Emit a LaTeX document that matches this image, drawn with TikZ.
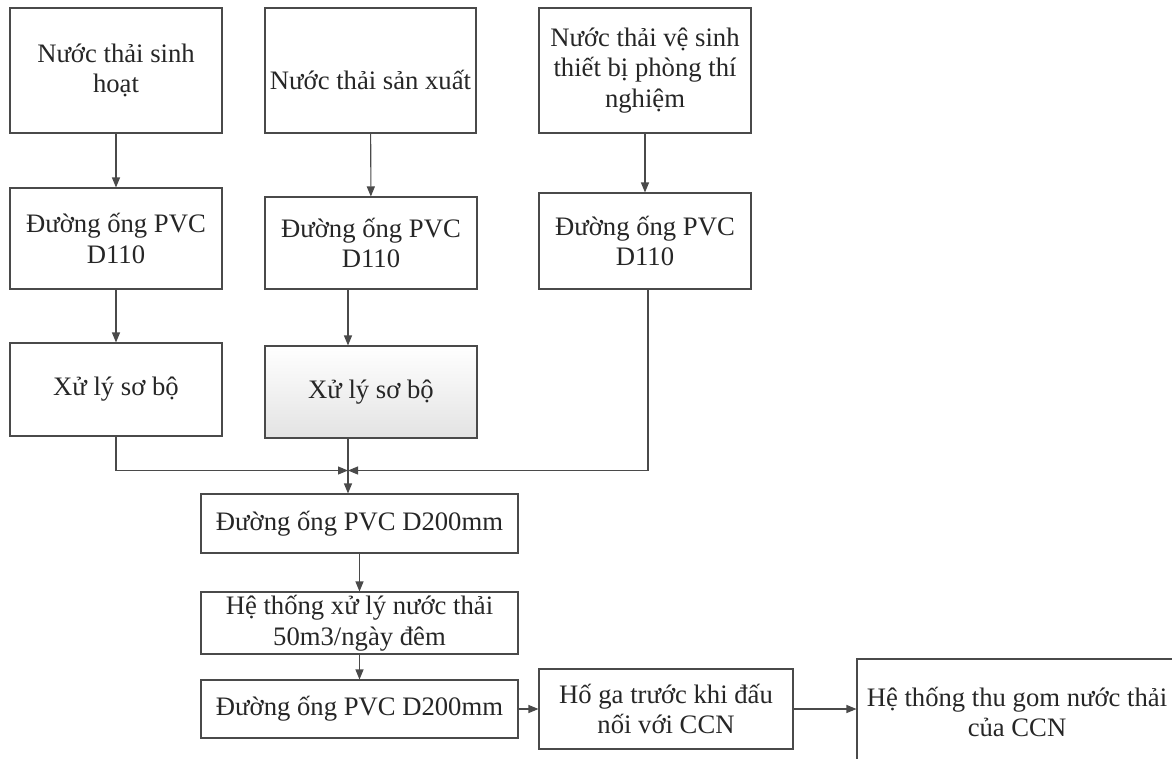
\documentclass[tikz,border=0pt]{standalone}
\usepackage{fontspec}
\setmainfont{Liberation Serif}
\usepackage{tikz}
\usetikzlibrary{arrows.meta}
\definecolor{lineGray}{HTML}{4A4A4A}
\definecolor{textGray}{HTML}{262626}

\begin{document}
\begin{tikzpicture}[x=0.75pt, y=-0.75pt,
    box/.style 2 args={draw=lineGray, line width=0.8pt, text=textGray, align=center,
        font=\fontsize{20}{23}\selectfont, inner sep=0pt,
        minimum width=#1*0.75pt, minimum height=#2*0.75pt},
    flow/.style={draw=lineGray, line width=0.8pt, -{Triangle[width=6pt,length=7.5pt]}}]
    \useasboundingbox (0,0) rectangle (1172,758);

    % three sources
    \node[box={212}{125}] (a1) at (116,70.5) {Nước thải sinh\\hoạt};
    \node[box={211}{125}] (b1) at (370.5,70.5) {\raisebox{-14pt}[0pt][0pt]{Nước thải sản xuất}};
    \node[box={212}{125}] (c1) at (645,70.5) {Nước thải vệ sinh\\thiết bị phòng thí\\nghiệm};

    \node[box={212}{101}] (a2) at (116,238.5) {Đường ống PVC\\D110};
    \node[box={212}{92}] (b2) at (371,243) {Đường ống PVC\\D110};
    \node[box={212}{96}] (c2) at (645,241) {Đường ống PVC\\D110};

    \node[box={212}{93}] (a3) at (116,389.5) {Xử lý sơ bộ};
    \node[box={212}{92}, top color=white, bottom color=gray!22] (b3) at (371,392) {Xử lý sơ bộ};

    % main line
    \node[box={317}{59}] (d1) at (359.5,523.5) {Đường ống PVC D200mm};
    \node[box={317}{62}] (d2) at (359.5,623) {Hệ thống xử lý nước thải\\50m3/ngày đêm};
    \node[box={317}{58}] (d3) at (359.5,709) {Đường ống PVC D200mm};
    \node[box={254}{80}] (e) at (666,709) {Hố ga trước khi đấu\\nối với CCN};
    \node[box={320}{106}] (f) at (1017,712) {Hệ thống thu gom nước thải\\của CCN};

    \coordinate (m) at (348,470.5);

    \draw[flow] (a1) -- (a2);
    \draw[flow] (b1) -- (b2);
    \draw[flow] (c1) -- (c2);
    \draw[flow] (a2) -- (a3);
    \draw[flow] (b2.south -| m) -- (b3.north -| m);

    \draw[flow] (a3.south) |- (m);
    \draw[flow] ([xshift=2.25pt]c2.south) |- (m);
    \draw[flow] (b3.south -| m) -- (d1.north -| m);

    \draw[flow] (d1) -- (d2);
    \draw[flow] (d2) -- (d3);
    \draw[flow] (d3) -- (e);
    \draw[flow] (e) -- (e -| f.west);
\end{tikzpicture}
\end{document}
